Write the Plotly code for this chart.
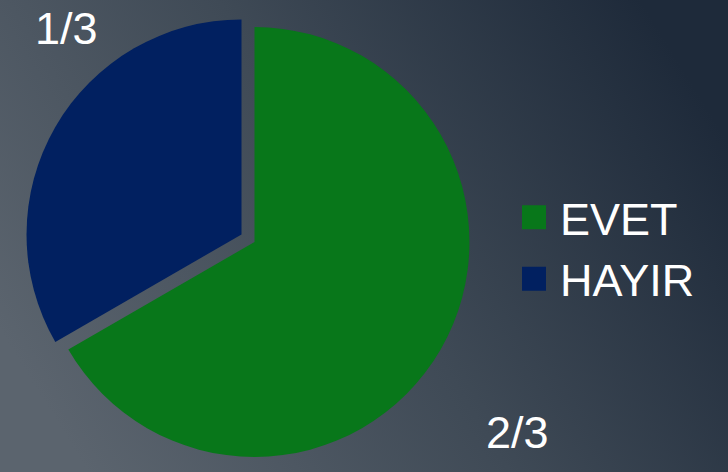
import base64
import plotly.graph_objects as go

# ---- data ----
labels = ["EVET", "HAYIR"]
values = [2, 1]
slice_text = ["2/3", "1/3"]
colors = ["#08771a", "#012060"]
pulls = [0, 0.07]

W, H = 728, 472
MT = 12
PH = H - MT

# gradient background as inline SVG
svg = (
    '<svg xmlns="http://www.w3.org/2000/svg" width="728" height="472" preserveAspectRatio="none">'
    '<defs><linearGradient id="g" x1="0" y1="0.7" x2="1" y2="0.3">'
    '<stop offset="0" stop-color="#5b646e"/>'
    '<stop offset="0.5" stop-color="#3f4a56"/>'
    '<stop offset="1" stop-color="#1e2a3a"/>'
    '</linearGradient></defs>'
    '<rect width="728" height="472" fill="url(#g)"/></svg>'
)
bg_src = "data:image/svg+xml;base64," + base64.b64encode(svg.encode()).decode()

fig = go.Figure(
    go.Pie(
        labels=labels,
        values=values,
        marker=dict(colors=colors, line=dict(width=0)),
        pull=pulls,
        sort=False,
        direction="clockwise",
        rotation=0,
        textinfo="none",
        hoverinfo="label+percent",
        domain=dict(x=[0, 254.5 * 2 / W], y=[0, 1]),
    )
)

# outside labels (positioned like the reference)
label_pos_px = {"2/3": (517, 432), "1/3": (66, 28)}
for t in slice_text:
    px, py = label_pos_px[t]
    fig.add_annotation(
        text=t,
        x=px / W,
        y=(H - py) / PH,
        xref="paper",
        yref="paper",
        showarrow=False,
        xanchor="center",
        yanchor="middle",
        font=dict(size=45, color="white", family="Liberation Sans, Arial, sans-serif"),
    )

fig.update_layout(
    width=W,
    height=H,
    margin=dict(l=0, r=0, t=MT, b=0, pad=0),
    paper_bgcolor="#3e4955",
    plot_bgcolor="rgba(0,0,0,0)",
    font=dict(family="Liberation Sans, Arial, sans-serif", color="white"),
    showlegend=True,
    legend=dict(
        x=520 / W,
        xanchor="left",
        y=(H - 248) / PH,
        yanchor="middle",
        font=dict(size=45, color="white"),
        bgcolor="rgba(0,0,0,0)",
        itemclick=False,
        itemdoubleclick=False,
    ),
    images=[
        dict(
            source=bg_src,
            xref="paper",
            yref="paper",
            x=0,
            y=H / PH,
            sizex=1,
            sizey=H / PH,
            xanchor="left",
            yanchor="top",
            sizing="stretch",
            layer="below",
        )
    ],
)

# enlarge the legend swatches to match the reference's large squares
post = """
var gd = document.getElementById('{plot_id}');
function bigSwatches(){
  gd.querySelectorAll('.legendpoints path').forEach(function(p){
    p.setAttribute('d','M6,12H-18V-12H6Z');
  });
}
bigSwatches();
gd.on('plotly_afterplot', bigSwatches);
"""

fig.write_html("out.html", post_script=post)
